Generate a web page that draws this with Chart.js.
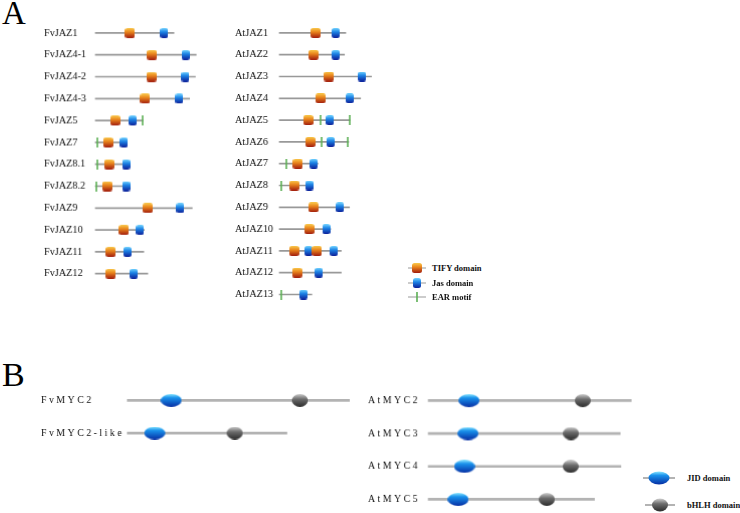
<!DOCTYPE html>
<html lang="en">
<head>
<meta charset="utf-8">
<title>Estructura de dominios JAZ y MYC2</title>
<script src="https://cdn.jsdelivr.net/npm/chart.js@4.4.1/dist/chart.umd.min.js"></script>
<style>
  html, body { margin: 0; padding: 0; background: #fff; overflow: hidden; }
  body { position: relative; width: 740px; height: 513px; font-family: "Liberation Serif", "Times New Roman", serif; }
  .panel { position: absolute; }
  .letra { position: absolute; line-height: 1; color: #000; }
  .leyenda { position: absolute; display: flex; align-items: center; font-weight: bold; font-size: 8.5px; color: #111; white-space: nowrap; }
  .leyenda canvas { display: block; }
</style>
</head>
<body>
<div class="letra" style="left:2px; top:-3px; font-size:33px;">A</div>
<div class="letra" style="left:2px; top:358px; font-size:34px;">B</div>

<div class="panel" id="cajaFvJaz"><canvas id="fvJaz"></canvas></div>
<div class="panel" id="cajaAtJaz"><canvas id="atJaz"></canvas></div>
<div class="panel" id="cajaFvMyc"><canvas id="fvMyc"></canvas></div>
<div class="panel" id="cajaAtMyc"><canvas id="atMyc"></canvas></div>

<script>
// Panel A: proteinas JAZ (longitud y posicion de dominios en aminoacidos)
const fvJazNombres = ['FvJAZ1', 'FvJAZ4-1', 'FvJAZ4-2', 'FvJAZ4-3', 'FvJAZ5', 'FvJAZ7', 'FvJAZ8.1', 'FvJAZ8.2', 'FvJAZ9', 'FvJAZ10', 'FvJAZ11', 'FvJAZ12'];
const fvJazLongitud = [297, 381, 378, 356, 180, 120, 126, 127, 366, 185, 183, 198];
const fvJazTify = [[131], [214], [212], [188], [75], [48], [52], [45], [198], [108], [58], [58]];
const fvJazJas = [[260], [341], [340], [317], [141], [108], [116], [116], [321], [169], [121], [145]];
const fvJazEar = [[], [], [], [], [178], [8], [6], [5], [], [], [], []];

const atJazNombres = ['AtJAZ1', 'AtJAZ2', 'AtJAZ3', 'AtJAZ4', 'AtJAZ5', 'AtJAZ6', 'AtJAZ7', 'AtJAZ8', 'AtJAZ9', 'AtJAZ10', 'AtJAZ11', 'AtJAZ12', 'AtJAZ13'];
const atJazLongitud = [251, 246, 348, 307, 267, 262, 146, 127, 265, 194, 234, 234, 123];
const atJazTify = [[137], [129], [187], [156], [109], [117], [70], [56], [129], [113], [56, 142], [67], []];
const atJazJas = [[213], [213], [312], [266], [191], [194], [130], [113], [229], [177], [110, 206], [149], [91]];
const atJazEar = [[], [], [], [], [156, 265], [161, 260], [27], [9], [], [], [], [], [9]];

// Panel B: proteinas MYC2
const fvMycNombres = ['FvMYC2', 'FvMYC2-like'];
const fvMycLongitud = [682, 490];
const fvMycJid = [[135], [84]];
const fvMycBhlh = [[530], [330]];

const atMycNombres = ['AtMYC2', 'AtMYC3', 'AtMYC4', 'AtMYC5'];
const atMycLongitud = [623, 589, 591, 510];
const atMycJid = [[125], [122], [111], [92]];
const atMycBhlh = [[474], [438], [437], [364]];

Chart.defaults.font.family = '"Liberation Serif", "Times New Roman", serif';

/**
 * Pinta un marcador de dominio centrado en (cx, cy).
 */
function dibujarMarcador(ctx, tipo, cx, cy) {
    ctx.save();
    let g;
    if (tipo === 'TIFY') {
        g = ctx.createLinearGradient(0, cy - 5, 0, cy + 5);
        g.addColorStop(0, '#f9c94c');
        g.addColorStop(0.4, '#ea861d');
        g.addColorStop(1, '#a11c0d');
        ctx.fillStyle = g;
        ctx.beginPath();
        ctx.roundRect(cx - 5, cy - 5, 10, 10, 2.5);
        ctx.fill();
    } else if (tipo === 'Jas') {
        g = ctx.createLinearGradient(0, cy - 5, 0, cy + 5);
        g.addColorStop(0, '#74d4ff');
        g.addColorStop(0.4, '#1d84e6');
        g.addColorStop(1, '#0b1e98');
        ctx.fillStyle = g;
        ctx.beginPath();
        ctx.roundRect(cx - 4, cy - 5, 8, 10, 2.5);
        ctx.fill();
    } else if (tipo === 'EAR') {
        g = ctx.createLinearGradient(cx - 1, 0, cx + 1, 0);
        g.addColorStop(0, '#2a8a2a');
        g.addColorStop(0.5, '#8fd680');
        g.addColorStop(1, '#2a8a2a');
        ctx.fillStyle = g;
        ctx.fillRect(cx - 0.8, cy - 5, 1.6, 10);
    } else if (tipo === 'JID') {
        g = ctx.createLinearGradient(0, cy - 6.5, 0, cy + 6.5);
        g.addColorStop(0, '#8ae6ff');
        g.addColorStop(0.3, '#1a92ec');
        g.addColorStop(1, '#062ea3');
        ctx.fillStyle = g;
        ctx.beginPath();
        ctx.ellipse(cx, cy, 10.5, 6.5, 0, 0, Math.PI * 2);
        ctx.fill();
    } else if (tipo === 'bHLH') {
        g = ctx.createLinearGradient(0, cy - 6.5, 0, cy + 6.5);
        g.addColorStop(0, '#cfcfcf');
        g.addColorStop(0.4, '#6e6e6e');
        g.addColorStop(1, '#2b2b2b');
        ctx.fillStyle = g;
        ctx.beginPath();
        ctx.ellipse(cx, cy, 8, 6.5, 0, 0, Math.PI * 2);
        ctx.fill();
    }
    ctx.restore();
}

/**
 * Crea un canvas con el marcador (y opcionalmente la linea de la proteina) para usarlo como pointStyle o en la leyenda.
 */
function crearIcono(tipo, ancho, alto, linea) {
    const c = document.createElement('canvas');
    c.width = ancho;
    c.height = alto;
    const ctx = c.getContext('2d');
    if (linea) {
        ctx.fillStyle = linea.color;
        ctx.fillRect(0, alto / 2 - linea.grosor / 2, ancho, linea.grosor);
    }
    dibujarMarcador(ctx, tipo, ancho / 2, alto / 2);
    return c;
}

const iconos = {
    TIFY: crearIcono('TIFY', 10, 10),
    Jas: crearIcono('Jas', 8, 10),
    EAR: crearIcono('EAR', 2, 10),
    JID: crearIcono('JID', 21, 13),
    bHLH: crearIcono('bHLH', 16, 13)
};

// Separacion de letras de las etiquetas del panel B
const espaciadoLetras = {
    id: 'espaciadoLetras',
    beforeDraw(chart, args, opts) {
        chart.ctx.letterSpacing = opts.valor || '0px';
    },
    afterDraw(chart) {
        chart.ctx.letterSpacing = '0px';
    }
};

/**
 * Genera un grafico de dominios: una barra flotante por proteina y los dominios como puntos.
 */
function crearGrafico(id, nombres, longitudes, dominios, cfg) {
    const caja = document.getElementById('caja' + id.charAt(0).toUpperCase() + id.slice(1));
    caja.style.left = cfg.left + 'px';
    caja.style.top = cfg.top + 'px';
    caja.style.width = (cfg.ejeAncho + cfg.xMax / cfg.aaPorPx) + 'px';
    caja.style.height = (nombres.length * cfg.filaAlto) + 'px';

    const datasets = dominios.map(d => ({
        type: 'scatter',
        label: d.tipo,
        data: d.posiciones.flatMap((lista, i) => lista.map(x => ({ x: x, y: nombres[i] }))),
        pointStyle: iconos[d.tipo],
        pointRadius: 5,
        clip: false
    }));

    datasets.push({
        type: 'bar',
        label: 'proteina',
        data: longitudes.map(l => [0, l]),
        backgroundColor: cfg.colorLinea,
        barThickness: cfg.grosorLinea,
        order: 10,
        clip: false
    });

    return new Chart(document.getElementById(id), {
        type: 'bar',
        data: { labels: nombres, datasets: datasets },
        options: {
            indexAxis: 'y',
            responsive: true,
            maintainAspectRatio: false,
            animation: false,
            events: [],
            layout: { padding: 0, autoPadding: false },
            plugins: {
                legend: { display: false },
                tooltip: { enabled: false },
                espaciadoLetras: { valor: cfg.espaciado || '0px' }
            },
            scales: {
                x: { type: 'linear', min: 0, max: cfg.xMax, display: false },
                y: {
                    type: 'category',
                    offset: true,
                    grid: { display: false },
                    border: { display: false },
                    ticks: {
                        padding: 0,
                        crossAlign: 'far',
                        autoSkip: false,
                        color: '#0d0d0d',
                        font: { size: cfg.fuente }
                    },
                    afterFit: escala => {
                        // ancho fijo para las etiquetas y sin margen extra arriba/abajo
                        escala.width = cfg.ejeAncho;
                        escala.paddingTop = 0;
                        escala.paddingBottom = 0;
                    }
                }
            }
        },
        plugins: [espaciadoLetras]
    });
}

const lineaJaz = { colorLinea: '#999999', grosorLinea: 1, fuente: 10.2, aaPorPx: 3.8, xMax: 420, filaAlto: 21.8 };
const lineaMyc = { colorLinea: '#b3b3b3', grosorLinea: 2, fuente: 9.8, aaPorPx: 3.08, filaAlto: 32.7, espaciado: '2.5px' };

crearGrafico('fvJaz', fvJazNombres, fvJazLongitud, [
    { tipo: 'TIFY', posiciones: fvJazTify },
    { tipo: 'Jas', posiciones: fvJazJas },
    { tipo: 'EAR', posiciones: fvJazEar }
], Object.assign({ left: 44, top: 22, ejeAncho: 51 }, lineaJaz));

crearGrafico('atJaz', atJazNombres, atJazLongitud, [
    { tipo: 'TIFY', posiciones: atJazTify },
    { tipo: 'Jas', posiciones: atJazJas },
    { tipo: 'EAR', posiciones: atJazEar }
], Object.assign({ left: 235, top: 22, ejeAncho: 44 }, lineaJaz));

crearGrafico('fvMyc', fvMycNombres, fvMycLongitud, [
    { tipo: 'JID', posiciones: fvMycJid },
    { tipo: 'bHLH', posiciones: fvMycBhlh }
], Object.assign({ left: 41, top: 384, ejeAncho: 86, xMax: 720 }, lineaMyc));

crearGrafico('atMyc', atMycNombres, atMycLongitud, [
    { tipo: 'JID', posiciones: atMycJid },
    { tipo: 'bHLH', posiciones: atMycBhlh }
], Object.assign({ left: 368, top: 384, ejeAncho: 60, xMax: 640 }, lineaMyc));

// Leyendas
const leyendas = [
    { tipo: 'TIFY', texto: 'TIFY domain', x: 408, y: 268, ancho: 18, alto: 12, sep: 6, linea: { color: '#999999', grosor: 1 } },
    { tipo: 'Jas', texto: 'Jas domain', x: 408, y: 282.7, ancho: 18, alto: 12, sep: 6, linea: { color: '#999999', grosor: 1 } },
    { tipo: 'EAR', texto: 'EAR motif', x: 408, y: 297.3, ancho: 18, alto: 12, sep: 6, linea: { color: '#999999', grosor: 1 } },
    { tipo: 'JID', texto: 'JID domain', x: 643, y: 477.7, ancho: 32, alto: 16, sep: 12, linea: { color: '#b3b3b3', grosor: 2 } },
    { tipo: 'bHLH', texto: 'bHLH domain', x: 645, y: 505, ancho: 30, alto: 16, sep: 12, linea: { color: '#b3b3b3', grosor: 2 } }
];

leyendas.forEach(l => {
    const item = document.createElement('div');
    item.className = 'leyenda';
    item.style.left = l.x + 'px';
    item.style.top = (l.y - l.alto / 2) + 'px';
    item.style.height = l.alto + 'px';
    item.appendChild(crearIcono(l.tipo, l.ancho, l.alto, l.linea));
    const texto = document.createElement('span');
    texto.textContent = l.texto;
    texto.style.marginLeft = l.sep + 'px';
    item.appendChild(texto);
    document.body.appendChild(item);
});
</script>
</body>
</html>
